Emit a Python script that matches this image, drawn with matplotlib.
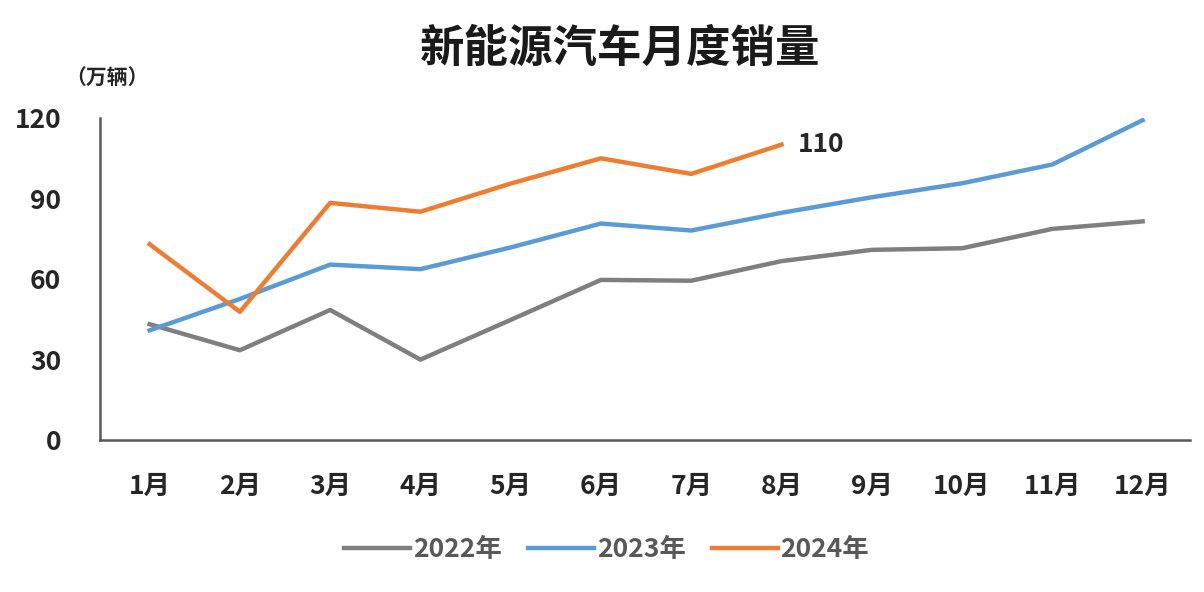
import matplotlib.pyplot as plt

plt.rcParams['font.family'] = ['Noto Sans CJK SC', 'DejaVu Sans']

months = ["1月", "2月", "3月", "4月", "5月", "6月", "7月", "8月", "9月", "10月", "11月", "12月"]
sales_2022 = [43.1, 33.4, 48.4, 29.9, 44.7, 59.6, 59.3, 66.6, 70.8, 71.4, 78.6, 81.4]
sales_2023 = [40.8, 52.5, 65.3, 63.6, 71.7, 80.6, 78.0, 84.6, 90.4, 95.6, 102.6, 119.1]
sales_2024 = [72.9, 47.7, 88.3, 85.0, 95.5, 104.9, 99.1, 110.0]
yticks = [0, 30, 60, 90, 120]

fig = plt.figure(figsize=(12.04, 5.92), dpi=100)
ax = fig.add_axes([0.083, 0.257, 0.905, 0.544])

x = list(range(len(months)))
ax.plot(x, sales_2022, color="#7f7f7f", linewidth=3.2, label="2022年")
ax.plot(x, sales_2023, color="#5b9bd5", linewidth=3.2, label="2023年")
ax.plot(x[:len(sales_2024)], sales_2024, color="#ed7d31", linewidth=3.2, label="2024年")

# 最后一个点的标注
ax.annotate(f"{sales_2024[-1]:.0f}", xy=(len(sales_2024) - 1, sales_2024[-1]),
            xytext=(12, 0), textcoords="offset points", va="center", ha="left",
            fontsize=19, fontweight="heavy", color="#262626")

ax.set_xlim(-0.55, 11.52)
ax.set_ylim(0, 120)
ax.set_xticks(x)
ax.set_xticklabels(months)
ax.set_yticks(yticks)
ax.tick_params(axis="both", length=0, labelsize=19, colors="#262626")
ax.tick_params(axis="y", pad=28)
ax.tick_params(axis="x", pad=24)
for lbl in ax.get_xticklabels() + ax.get_yticklabels():
    lbl.set_fontweight("heavy")

for s in ["top", "right"]:
    ax.spines[s].set_visible(False)
for s in ["left", "bottom"]:
    ax.spines[s].set_color("#595959")
    ax.spines[s].set_linewidth(1.8)

fig.text(0.515, 0.918, "新能源汽车月度销量", ha="center", va="center",
         fontsize=32, fontweight="heavy", color="#1a1a1a")
fig.text(0.089, 0.868, "（万辆）", ha="center", va="center",
         fontsize=15, fontweight="heavy", color="#262626")

leg = ax.legend(loc="center", bbox_to_anchor=(0.465, -0.34), ncol=3, frameon=False,
                fontsize=19, handlelength=2.5, handletextpad=0.1, columnspacing=1.0)
for t in leg.get_texts():
    t.set_color("#595959")
    t.set_fontweight("heavy")

plt.savefig("out.png", dpi=100)
plt.close()
